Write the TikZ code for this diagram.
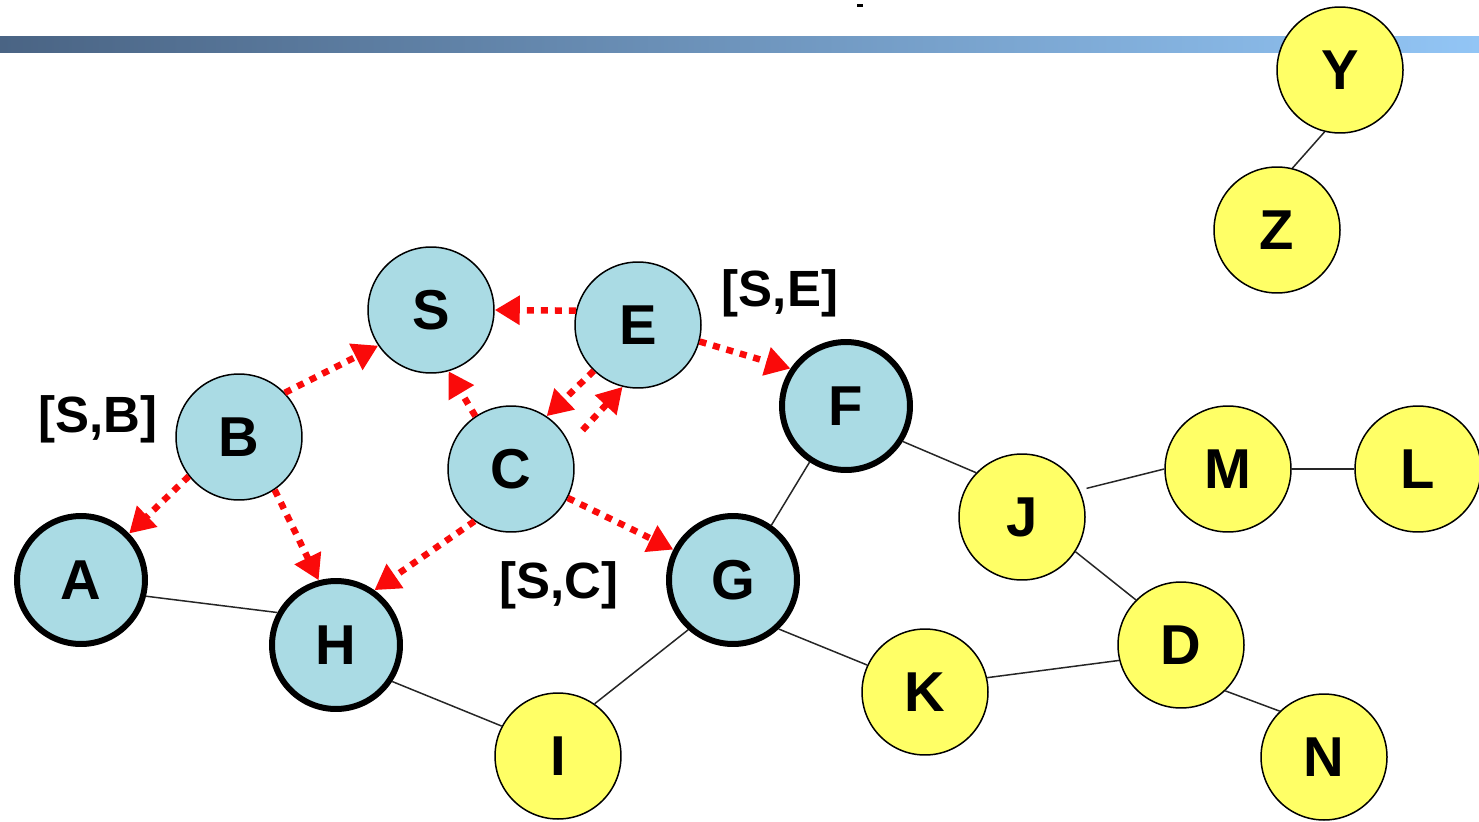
\documentclass[tikz,border=0pt]{standalone}
\usepackage{fontspec}
\setmainfont{Liberation Sans}
\usetikzlibrary{arrows.meta}
\definecolor{nodeblue}{RGB}{170,219,228}
\definecolor{nodeyellow}{RGB}{255,255,102}
\definecolor{bardark}{RGB}{74,100,132}
\definecolor{barlight}{RGB}{146,197,245}
\definecolor{routered}{RGB}{250,10,10}
\begin{document}
\begin{tikzpicture}[x=0.02cm,y=-0.02cm,
  vertex/.style={circle, draw=black, line width=0.03cm, minimum size=2.52cm, inner sep=0pt,
    font=\fontsize{32}{32}\selectfont\bfseries},
  bluenode/.style={vertex, fill=nodeblue},
  yellownode/.style={vertex, fill=nodeyellow},
  thicknode/.style={line width=0.12cm, minimum size=2.56cm},
  route/.style={routered, line width=0.13cm, dash pattern=on 0.14cm off 0.14cm,
    -{Triangle[length=0.5cm,width=0.56cm]}},
  link/.style={line width=0.03cm, black!85},
  lbl/.style={font=\fontsize{29}{29}\selectfont\bfseries, inner sep=0pt}
]
\useasboundingbox (0,0) rectangle (1479,821);
% header bar
\shade[left color=bardark, right color=barlight] (0,37) rectangle (1479,53);
\fill[black] (857,4) rectangle (863,7);

% nodes
\node[bluenode] (S) at (431,310) {S};
\node[bluenode] (E) at (638,325) {E};
\node[bluenode] (B) at (239,437) {B};
\node[bluenode] (C) at (511,469) {C};
\node[bluenode,thicknode] (F) at (846,406) {F};
\node[bluenode,thicknode] (A) at (81,580) {A};
\node[bluenode,thicknode] (H) at (336,645) {H};
\node[bluenode,thicknode] (G) at (733,580) {G};
\node[yellownode] (Y) at (1340,70) {Y};
\node[yellownode] (Z) at (1277,230) {Z};
\node[yellownode] (J) at (1022,517) {J};
\node[yellownode] (M) at (1228,469) {M};
\node[yellownode] (L) at (1418,469) {L};
\node[yellownode] (D) at (1181,645) {D};
\node[yellownode] (K) at (925,692) {K};
\node[yellownode] (I) at (558,756) {I};
\node[yellownode] (N) at (1324,757) {N};

% labels
\node[lbl] (lSB) at (98,419) {[S,B]};
\node[lbl] (lSE) at (780,293) {[S,E]};
\node[lbl] (lSC) at (559,585) {[S,C]};

% plain links
\draw[link] (A.346) -- (H.151);
\draw[link] (H.327) -- (I.152);
\draw[link] (I.55) -- (G.228);
\draw[link] (G.55) -- (F.237);
\draw[link] (F.328) -- (J.136);
\draw[link, shorten <=0.14cm] (J.25) -- (M.180);
\draw[link] (M.0) -- (L.180);
\draw[link] (J.327) -- (D.135);
\draw[link] (K.13) -- (D.194);
\draw[link] (G.313) -- (K.155);
\draw[link] (D.314) -- (N.134);
\draw[link] (Y.256) -- (Z.76);

% route request arrows
\draw[route] (B.44) -- (S.214);
\draw[route] (E.167) -- (S.0);
\draw[route] (C.124) -- (S.286);
\draw[route] (E.226) -- (C.56);
\draw[route, shorten <=0.38cm] (C.23) -- (E.256);
\draw[route] (E.345) -- (F.146);
\draw[route] (B.218) -- (A.44);
\draw[route] (B.304) -- (H.105);
\draw[route] (C.235) -- (H.55);
\draw[route] (C.333) -- (G.153);
\end{tikzpicture}
\end{document}
